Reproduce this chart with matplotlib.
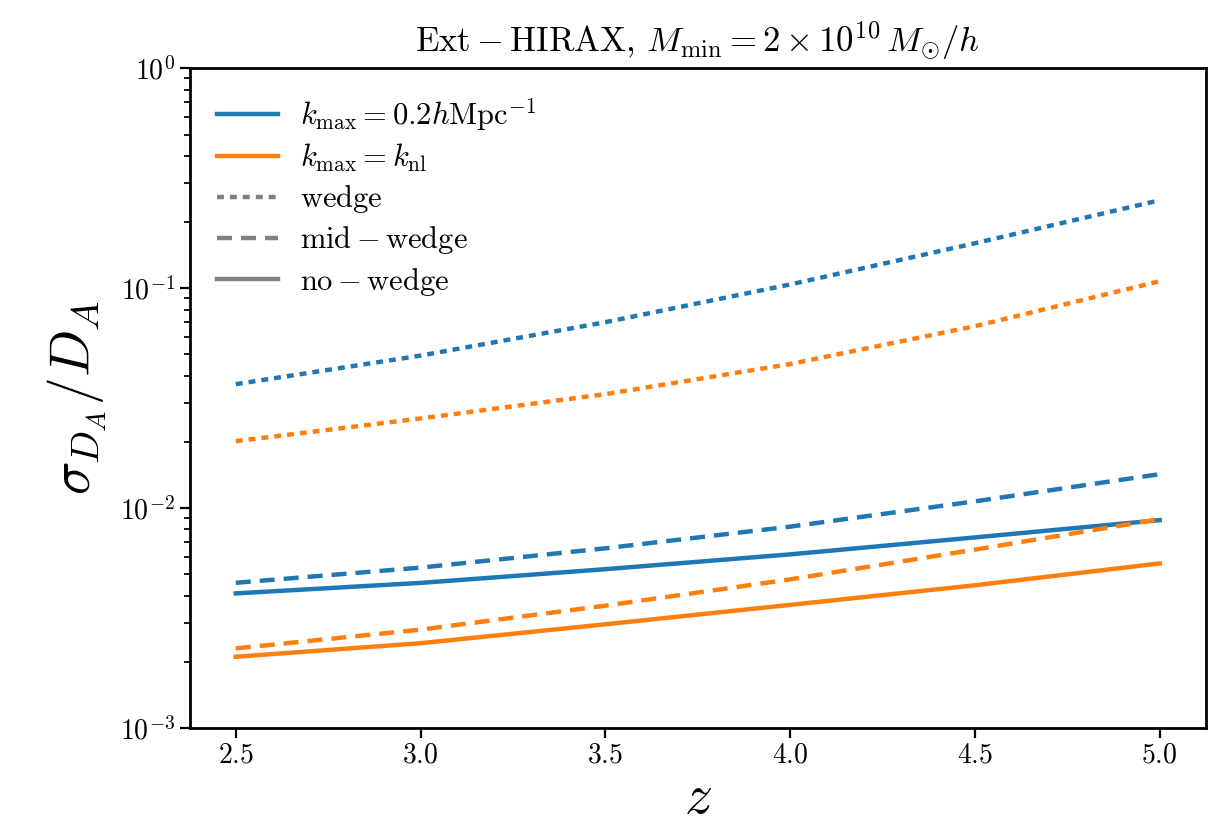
import matplotlib
matplotlib.use("Agg")
import matplotlib.pyplot as plt
from matplotlib.lines import Line2D

plt.rcParams["mathtext.fontset"] = "cm"
plt.rcParams["font.family"] = "serif"
plt.rcParams["font.serif"] = ["cmr10", "DejaVu Serif"]
plt.rcParams["axes.formatter.use_mathtext"] = True
plt.rcParams["axes.unicode_minus"] = False

# Redshift grid
z = [2.5, 3.0, 3.5, 4.0, 4.5, 5.0]

# sigma_DA / DA, k_max = 0.2 h/Mpc
kfix_wedge = [0.03661, 0.04939, 0.07007, 0.1040, 0.1601, 0.2512]
kfix_mid = [0.004575, 0.005364, 0.006567, 0.008238, 0.010737, 0.014273]
kfix_nowedge = [0.004095, 0.004571, 0.005276, 0.006162, 0.007359, 0.008820]

# sigma_DA / DA, k_max = k_nl
knl_wedge = [0.02016, 0.02557, 0.03298, 0.04522, 0.06718, 0.1076]
knl_mid = [0.002303, 0.002802, 0.003601, 0.004742, 0.006477, 0.008913]
knl_nowedge = [0.002109, 0.002431, 0.002963, 0.003631, 0.004458, 0.005605]

blue = "#1f77b4"
orange = "#ff7f0e"
lw = 3.2
dotted = (0, (5.0 / lw, 4.3 / lw))
dashed = (0, (10.8 / lw, 6.5 / lw))

fig = plt.figure(figsize=(12.23, 8.33), dpi=100)
ax = fig.add_axes([0.155, 0.126, 0.831, 0.792])

ax.plot(z, kfix_wedge, color=blue, lw=lw, ls=dotted)
ax.plot(z, kfix_mid, color=blue, lw=lw, ls=dashed)
ax.plot(z, kfix_nowedge, color=blue, lw=lw, ls="-")
ax.plot(z, knl_wedge, color=orange, lw=lw, ls=dotted)
ax.plot(z, knl_mid, color=orange, lw=lw, ls=dashed)
ax.plot(z, knl_nowedge, color=orange, lw=lw, ls="-")

ax.set_yscale("log")
ax.set_ylim(1e-3, 1e0)
ax.set_xticks([2.5, 3.0, 3.5, 4.0, 4.5, 5.0])
ax.set_xticklabels(["$2.5$", "$3.0$", "$3.5$", "$4.0$", "$4.5$", "$5.0$"])

for s in ax.spines.values():
    s.set_linewidth(2.0)
ax.tick_params(which="major", length=7, width=1.6, labelsize=20)
ax.tick_params(which="minor", length=4, width=1.3)

ax.set_xlabel("$z$", fontsize=40, labelpad=4)
ax.set_ylabel(r"$\sigma_{D_A}/D_A$", fontsize=40, labelpad=8)
ax.set_title(r"$\mathrm{Ext-HIRAX},\,M_{\rm min}=2\times10^{10}\,M_{\odot}/h$",
             fontsize=25, pad=12)

handles = [
    Line2D([], [], color=blue, lw=lw),
    Line2D([], [], color=orange, lw=lw),
    Line2D([], [], color="gray", lw=lw, ls=dotted),
    Line2D([], [], color="gray", lw=lw, ls=dashed),
    Line2D([], [], color="gray", lw=lw, ls="-"),
]
labels = [
    r"$k_{\rm max}=0.2h{\rm Mpc}^{-1}$",
    r"$k_{\rm max}=k_{\rm nl}$",
    r"$\rm wedge$",
    r"$\rm mid-wedge$",
    r"$\rm no-wedge$",
]
ax.legend(handles, labels, loc="upper left", frameon=False, fontsize=22,
          handlelength=2.0, handletextpad=0.7, labelspacing=0.3,
          borderaxespad=0.5)

fig.savefig("out.png", dpi=100)
